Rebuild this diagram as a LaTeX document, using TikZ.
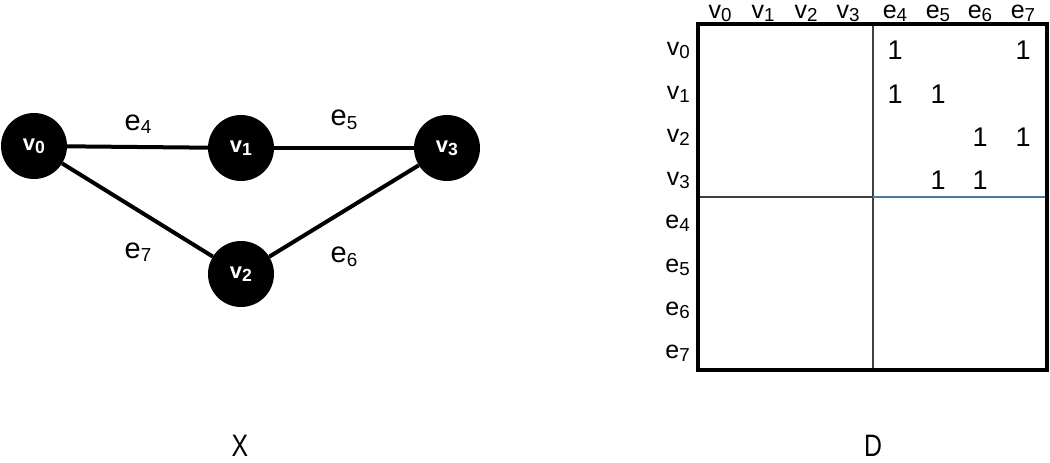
\documentclass[tikz,border=0pt]{standalone}
\usepackage{fontspec}
\setmainfont{Liberation Sans}
\newcommand\lbl[3][0.75]{#2\raisebox{-0.12em}{\scalebox{#1}{#3}}}
\definecolor{divblue}{HTML}{4A7AA8}
\tikzset{
  vert/.style={circle,fill=black,minimum size=66pt,inner sep=0pt,text=white,font=\fontsize{22}{22}\selectfont\bfseries},
  edge/.style={line width=4pt},
  elab/.style={font=\fontsize{29}{29}\selectfont,inner sep=0pt},
  cell/.style={font=\fontsize{25}{25}\selectfont,inner sep=0pt},
  one/.style={font=\fontsize{27}{27}\selectfont,inner sep=0pt},
  captxt/.style={font=\fontsize{31}{31}\selectfont,inner sep=0pt,anchor=base,xscale=0.8}
}
\begin{document}
\begin{tikzpicture}[x=1pt,y=-1pt]
\useasboundingbox (0,0) rectangle (1050,463);
% graph
\node[vert] (v0) at (34,146) {\lbl[0.8]{v}{0}};
\node[vert] (v1) at (241,148) {\lbl[0.8]{v}{1}};
\node[vert] (v3) at (447,148) {\lbl[0.8]{v}{3}};
\node[vert] (v2) at (241,274) {\lbl[0.8]{v}{2}};
\draw[edge] (v0) -- (v1);
\draw[edge] (v1) -- (v3);
\draw[edge] (v0) -- (v2);
\draw[edge] (v2) -- (v3);
\node[elab] (le4) at (138,124) {\lbl[0.65]{e}{4}};
\node[elab] (le5) at (344,120) {\lbl[0.65]{e}{5}};
\node[elab] (le7) at (138,252) {\lbl[0.65]{e}{7}};
\node[elab] (le6) at (344,257) {\lbl[0.65]{e}{6}};
% matrix
\coordinate (tl) at (698,24);
\coordinate (br) at (1047,370);
\coordinate (mt) at (873,24);
\coordinate (mb) at (873,370);
\coordinate (ml) at (698,197);
\coordinate (mc) at (873,197);
\coordinate (mr) at (1047,197);
\draw[line width=1.2pt,draw=black!75] (mt) -- (mb);
\draw[line width=1.2pt,draw=black!75] (ml) -- (mc);
\draw[line width=1.4pt,draw=divblue] (mc) -- (mr);
\draw[line width=4pt] (tl) rectangle (br);
% headers
\foreach \t/\s/\x in {v/0/720,v/1/763,v/2/806,v/3/848,e/4/895,e/5/938,e/6/980,e/7/1023}
  \node[cell] (h\t\s) at (\x,13) {\lbl{\t}{\s}};
\foreach \t/\s/\y in {v/0/50,v/1/94,v/2/137,v/3/180,e/4/223,e/5/267,e/6/310,e/7/353}
  \node[cell,anchor=east] (r\t\s) at (690,\y) {\lbl{\t}{\s}};
% ones
\foreach \x/\y [count=\i] in {895/50,1023/50,895/94,938/94,980/137,1023/137,938/180,980/180}
  \node[one] (one\i) at (\x,\y) {1};
% captions
\node[captxt] (capX) at (240,456) {X};
\node[captxt] (capD) at (873,456) {D};
\end{tikzpicture}
\end{document}
